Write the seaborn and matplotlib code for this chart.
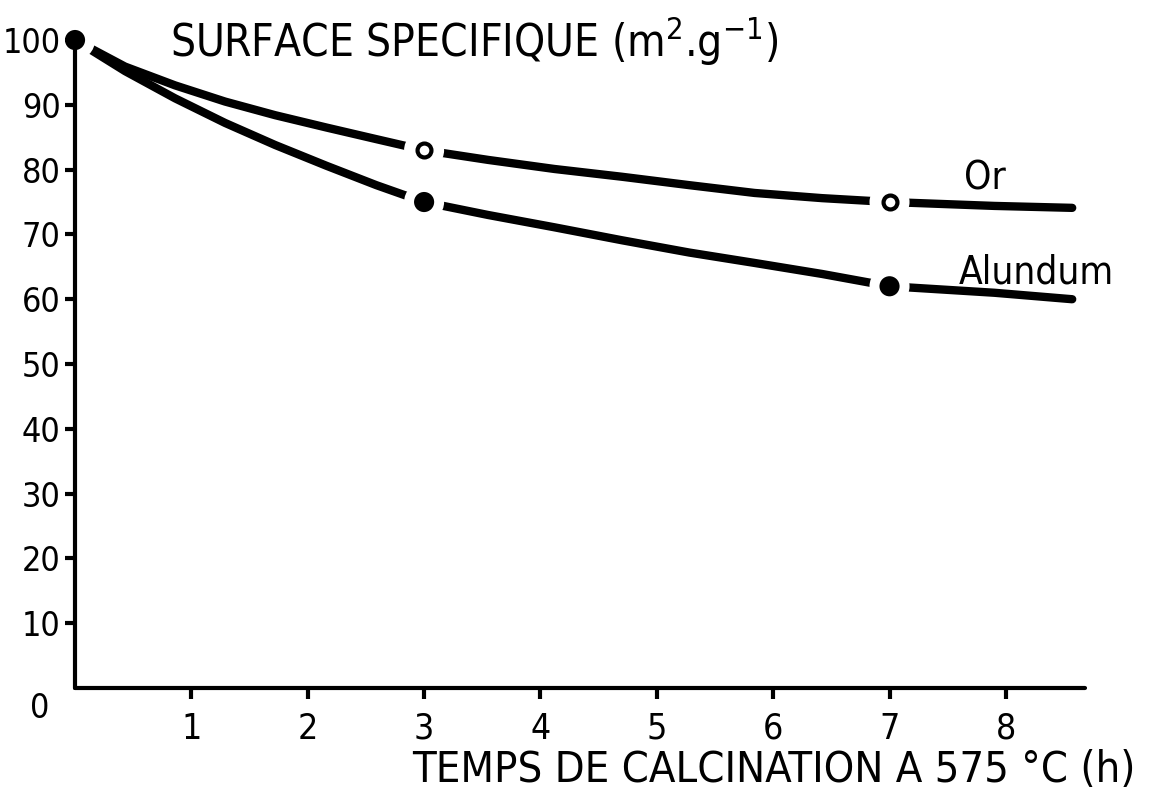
import numpy as np
import pandas as pd
import matplotlib
matplotlib.use("Agg")
import matplotlib.pyplot as plt
from matplotlib import font_manager
import seaborn as sns

sns.set_theme(style="ticks")
plt.rcParams['font.family'] = ['DejaVu Sans']
plt.rcParams['mathtext.default'] = 'regular'
plt.rcParams['text.color'] = 'black'

# courbes (temps en h, surface en m2/g)
or_t = [0, 0.43, 0.86, 1.29, 1.72, 2.16, 2.59, 3, 3.55, 4.12, 4.70, 5.28, 5.84, 6.42, 7, 7.9, 8.57]
or_v = [100, 95.9, 93.0, 90.5, 88.4, 86.5, 84.7, 83, 81.5, 80.1, 78.9, 77.6, 76.4, 75.6, 75, 74.4, 74.1]
alu_t = [0, 0.43, 0.86, 1.29, 1.72, 2.16, 2.59, 3, 3.55, 4.12, 4.70, 5.28, 5.84, 6.42, 7, 7.9, 8.57]
alu_v = [100, 95.2, 91.0, 87.2, 83.8, 80.6, 77.6, 75, 73.0, 71.1, 69.1, 67.2, 65.6, 63.9, 62, 61, 60]

# points mesures
or_pt_t = [3, 7]
or_pt_v = [83, 75]
alu_pt_t = [0, 3, 7]
alu_pt_v = [100, 75, 62]

xticks = [1, 2, 3, 4, 5, 6, 7, 8]
yticks = [10, 20, 30, 40, 50, 60, 70, 80, 90, 100]

#%% police etroite si disponible
cond = [f.fname for f in font_manager.fontManager.ttflist
        if 'DejaVuSansCondensed.ttf' in f.fname]

def police(s):
    if cond:
        return font_manager.FontProperties(fname=cond[0], size=s / 0.9)
    return font_manager.FontProperties(family='DejaVu Sans', size=s)

fig = plt.figure(figsize=(11.49, 8.02), dpi=100)
ax = fig.add_axes([0.0653, 0.1421, 0.879, 0.808])
ax.set_axisbelow(False)

lw = 6
sns.lineplot(x=or_t, y=or_v, ax=ax, color="black", lw=lw, estimator=None,
             solid_capstyle="round", zorder=2)
sns.lineplot(x=alu_t, y=alu_v, ax=ax, color="black", lw=lw, estimator=None,
             solid_capstyle="round", zorder=2)

# blancs autour des points
sns.scatterplot(x=or_pt_t + alu_pt_t, y=or_pt_v + alu_pt_v, ax=ax, s=830,
                color="white", edgecolor="none", zorder=2.2, clip_on=False)
sns.scatterplot(x=or_pt_t, y=or_pt_v, ax=ax, s=100, color="white",
                edgecolor="black", linewidth=3, zorder=4, clip_on=False)
sns.scatterplot(x=alu_pt_t, y=alu_pt_v, ax=ax, s=210, color="black",
                edgecolor="none", zorder=4, clip_on=False)

ax.set_xlim(0, 8.68)
ax.set_ylim(0, 100)
ax.set_xticks(xticks)
ax.set_yticks(yticks)
ax.set_xticklabels([str(v) for v in xticks], fontproperties=police(23))
ax.set_yticklabels([str(v) for v in yticks], fontproperties=police(22))
ax.tick_params(axis="x", direction="out", length=8, width=3, pad=9,
               colors="black", labelcolor="black")
ax.tick_params(axis="y", direction="out", length=7, width=3, pad=3.5,
               colors="black", labelcolor="black")
for s in ["top", "right"]:
    ax.spines[s].set_visible(False)
for s in ["left", "bottom"]:
    ax.spines[s].set_linewidth(3)
    ax.spines[s].set_color("black")
    ax.spines[s].set_capstyle("round")
ax.set_facecolor("white")
ax.grid(False)

ax.text(-0.30, -3.1, "0", fontproperties=police(22), ha="center", va="center",
        color="black")
ax.text(0.82, 97.4, r"SURFACE SPECIFIQUE (m$^{2}$.g$^{-1}$)", fontproperties=police(28.5),
        ha="left", va="baseline", color="black")
ax.text(7.82, 76.9, "Or", fontproperties=police(25), ha="center", va="baseline",
        color="black")
ax.text(8.26, 62.5, "Alundum", fontproperties=police(25), ha="center", va="baseline",
        color="black")
fig.text(0.988, 0.040, "TEMPS DE CALCINATION A 575 °C (h)", fontproperties=police(28),
         ha="right", va="center", color="black")

fig.savefig("out.png", dpi=100, facecolor="white")
